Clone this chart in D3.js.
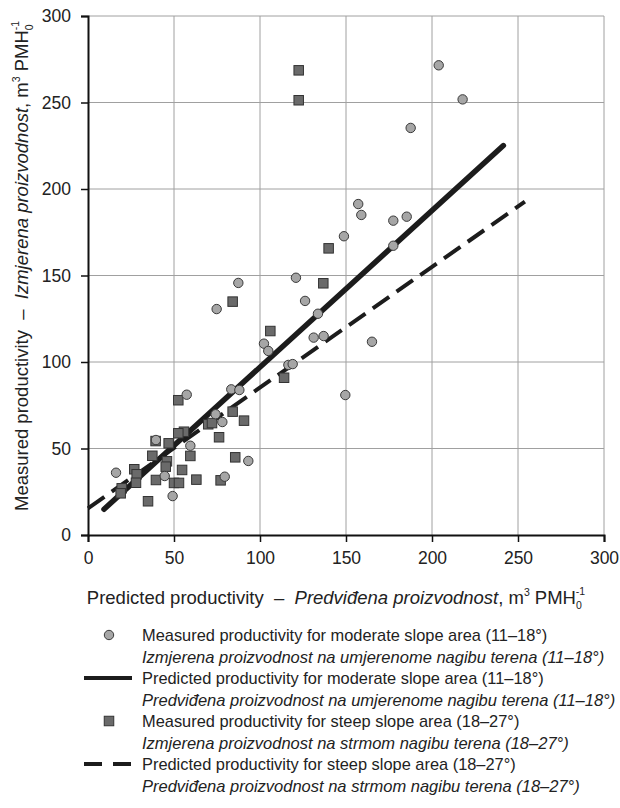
<!DOCTYPE html>
<html>
<head>
<meta charset="utf-8">
<script src="https://cdn.jsdelivr.net/npm/d3@7"></script>
<style>
  html, body { margin: 0; padding: 0; background: #fff; }
  svg { display: block; font-family: "Liberation Sans", Arial, sans-serif; }
</style>
</head>
<body>
<svg id="chart" width="620" height="808"></svg>
<script>
// ---- Data ----
const moderateMeasured = [
  [16.3, 36.0], [39.5, 54.9], [44.6, 34.1], [49.2, 22.5], [57.4, 81.1],
  [59.5, 51.6], [74.2, 69.8], [74.8, 130.6], [78.1, 65.3], [79.5, 33.7],
  [83.3, 84.2], [87.4, 145.7], [88.0, 83.8], [93.2, 42.8], [102.3, 110.6],
  [104.8, 106.4], [116.5, 98.3], [119.0, 98.8], [120.9, 148.7], [126.2, 135.3],
  [131.2, 114.1], [133.7, 127.9], [137.0, 115.0], [148.8, 172.7], [149.6, 80.9],
  [157.1, 191.3], [158.9, 185.0], [165.1, 111.7], [177.5, 181.7], [177.5, 167.2],
  [185.3, 184.0], [187.6, 235.3], [203.9, 271.5], [217.8, 251.8]
];
const steepMeasured = [
  [122.5, 268.6], [122.5, 251.3], [84.1, 134.9], [106.0, 117.9], [52.5, 77.9],
  [84.1, 71.3], [90.7, 66.1], [69.9, 64.0], [72.1, 64.7], [76.2, 56.5],
  [55.8, 59.7], [52.5, 58.8], [39.3, 54.3], [46.9, 53.0], [37.4, 45.8],
  [59.5, 45.7], [45.9, 42.6], [45.2, 39.5], [85.6, 44.9], [26.9, 38.0],
  [28.3, 35.1], [27.9, 30.2], [54.7, 37.6], [39.5, 31.8], [63.0, 32.0],
  [50.0, 30.1], [52.9, 30.1], [77.1, 31.6], [19.6, 27.0], [19.0, 24.1],
  [34.9, 19.5], [139.9, 165.7], [136.8, 145.5], [114.0, 90.9]
];
const moderatePredicted = [[9.3, 14.9], [241.5, 225.1]];
const steepPredicted = [[0, 15.4], [254, 192.7]];
const xTicks = [0, 50, 100, 150, 200, 250, 300];
const yTicks = [0, 50, 100, 150, 200, 250, 300];
const legendLabels = [
  ["Measured productivity for moderate slope area (11–18°)", "Izmjerena proizvodnost na umjerenome nagibu terena (11–18°)"],
  ["Predicted productivity for moderate slope area (11–18°)", "Predviđena proizvodnost na umjerenome nagibu terena (11–18°)"],
  ["Measured productivity for steep slope area (18–27°)", "Izmjerena proizvodnost na strmom nagibu terena (18–27°)"],
  ["Predicted productivity for steep slope area (18–27°)", "Predviđena proizvodnost na strmom nagibu terena (18–27°)"]
];

// ---- Layout ----
const svg = d3.select("#chart");
const mLeft = 88, mRight = 604, mTop = 16, mBottom = 535;
const x = d3.scaleLinear().domain([0, 300]).range([mLeft, mRight]);
const y = d3.scaleLinear().domain([0, 300]).range([mBottom, mTop]);

const circleFill = "#a6a6a6", circleStroke = "#3a3a3a";
const squareFill = "#6a6a6a", squareStroke = "#333333";
const lineColor = "#1c1c1c";

// gridlines
const grid = svg.append("g");
grid.selectAll("line.v").data(xTicks.filter(d => d > 0)).join("line")
  .attr("x1", d => x(d)).attr("x2", d => x(d))
  .attr("y1", y(0)).attr("y2", y(300))
  .attr("stroke", "#a0a0a0").attr("stroke-width", 1);
grid.selectAll("line.h").data(yTicks.filter(d => d > 0)).join("line")
  .attr("x1", x(0)).attr("x2", x(300))
  .attr("y1", d => y(d)).attr("y2", d => y(d))
  .attr("stroke", "#a0a0a0").attr("stroke-width", 1);

// axes
const xAxis = d3.axisBottom(x).tickValues(xTicks).tickSize(7).tickPadding(10);
const yAxis = d3.axisLeft(y).tickValues(yTicks).tickSize(7).tickPadding(10);
const gx = svg.append("g").attr("transform", `translate(0,${mBottom})`).call(xAxis);
const gy = svg.append("g").attr("transform", `translate(${mLeft},0)`).call(yAxis);
[gx, gy].forEach(g => {
  g.select(".domain").attr("stroke", "#111").attr("stroke-width", 2);
  g.selectAll(".tick line").attr("stroke", "#111").attr("stroke-width", 1.5);
  g.selectAll(".tick text").attr("fill", "#222").style("font-size", "17.5px")
    .style("font-family", "'Liberation Sans', Arial, sans-serif");
});

// predicted lines
const line = d3.line().x(d => x(d[0])).y(d => y(d[1]));
svg.append("path").datum(steepPredicted).attr("d", line)
  .attr("fill", "none").attr("stroke", lineColor).attr("stroke-width", 4)
  .attr("stroke-dasharray", "20,9");
svg.append("path").datum(moderatePredicted).attr("d", line)
  .attr("fill", "none").attr("stroke", lineColor).attr("stroke-width", 5.5)
  .attr("stroke-linecap", "round");

// points
const sq = 9.5;
svg.append("g").selectAll("rect").data(steepMeasured).join("rect")
  .attr("x", d => x(d[0]) - sq / 2).attr("y", d => y(d[1]) - sq / 2)
  .attr("width", sq).attr("height", sq)
  .attr("fill", squareFill).attr("stroke", squareStroke).attr("stroke-width", 1);
svg.append("g").selectAll("circle").data(moderateMeasured).join("circle")
  .attr("cx", d => x(d[0])).attr("cy", d => y(d[1])).attr("r", 4.7)
  .attr("fill", circleFill).attr("stroke", circleStroke).attr("stroke-width", 1);

// axis titles
function unitTitle(sel, plain, italic) {
  sel.append("tspan").text(plain);
  sel.append("tspan").attr("font-style", "italic").text(italic);
  sel.append("tspan").text(", m");
  sel.append("tspan").attr("font-size", "10.5px").attr("dy", -8).text("3");
  sel.append("tspan").attr("dy", 8).text(" PMH");
  sel.append("tspan").attr("font-size", "10.5px").attr("dy", 5).text("0");
  sel.append("tspan").attr("font-size", "10.5px").attr("dx", -6).attr("dy", -14).text("-1");
}
const xt = svg.append("text").attr("x", 336).attr("y", 604)
  .attr("text-anchor", "middle").attr("fill", "#222")
  .style("font-size", "18.5px").style("white-space", "pre");
unitTitle(xt, "Predicted productivity  –  ", "Predviđena proizvodnost");

const yt = svg.append("text").attr("transform", `translate(28,266) rotate(-90)`)
  .attr("text-anchor", "middle").attr("fill", "#222")
  .style("font-size", "18.5px").style("white-space", "pre");
unitTitle(yt, "Measured productivity  –  ", "Izmjerena proizvodnost");

// legend
const legX = 142, legY0 = 641, rowH = 21.5;
const lg = svg.append("g");
legendLabels.forEach((pair, i) => {
  const yy = legY0 + i * 2 * rowH;
  lg.append("text").attr("x", legX).attr("y", yy).attr("fill", "#222")
    .style("font-size", "16.4px").text(pair[0]);
  lg.append("text").attr("x", legX).attr("y", yy + rowH).attr("fill", "#222")
    .attr("font-style", "italic").style("font-size", "16.5px").text(pair[1]);
});
const symCx = 109;
const symY = i => legY0 + i * 2 * rowH - 6;
lg.append("circle").attr("cx", symCx).attr("cy", symY(0)).attr("r", 4.7)
  .attr("fill", circleFill).attr("stroke", circleStroke);
lg.append("line").attr("x1", 84).attr("x2", 132).attr("y1", symY(1)).attr("y2", symY(1))
  .attr("stroke", lineColor).attr("stroke-width", 4);
lg.append("rect").attr("x", symCx - sq / 2).attr("y", symY(2) - sq / 2).attr("width", sq).attr("height", sq)
  .attr("fill", squareFill).attr("stroke", squareStroke);
lg.append("line").attr("x1", 84).attr("x2", 132).attr("y1", symY(3)).attr("y2", symY(3))
  .attr("stroke", lineColor).attr("stroke-width", 4).attr("stroke-dasharray", "18,11");
</script>
</body>
</html>
